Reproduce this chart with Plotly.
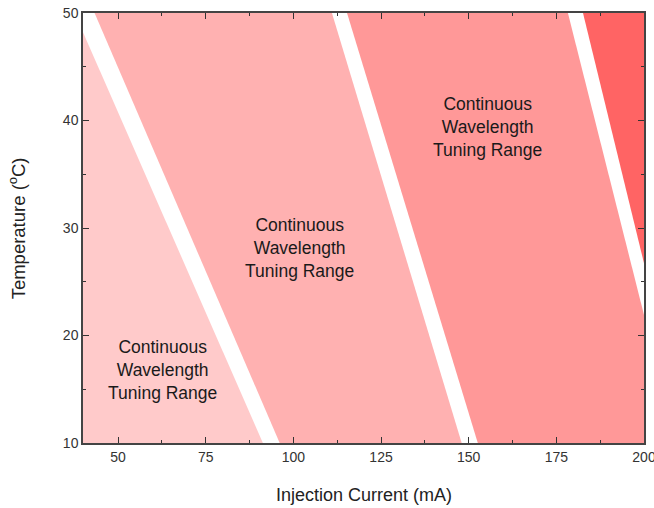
import plotly.graph_objects as go

# Axis ranges
x_range = [40, 200]
y_range = [10, 50]

# Boundary lines of white gaps: current (mA) at T=10 and at T=50 (extrapolated)
temps = [10, 50]
gap1_left = [91.3, 37.6]
gap1_right = [96.1, 43.3]
gap2_left = [148.0, 111.0]
gap2_right = [152.6, 115.3]
gap3_left = [209.2, 178.3]
gap3_right = [212.5, 182.6]

band_colors = ["#FFCACA", "#FFB1B1", "#FF9898", "#FF6464"]

label_text = "Continuous<br>Wavelength<br>Tuning Range"
label_x = [62.7, 101.8, 155.4]
label_y = [16.8, 28.1, 39.4]

FONT = "Liberation Sans, Arial"

fig = go.Figure()

def band(left, right, color):
    xs = [left[0], right[0], right[1], left[1], left[0]]
    ys = [temps[0], temps[0], temps[1], temps[1], temps[0]]
    fig.add_trace(go.Scatter(x=xs, y=ys, fill="toself", fillcolor=color,
                             mode="lines", line=dict(width=0, color=color),
                             hoverinfo="skip", showlegend=False))

xl = [x_range[0] - 20, x_range[0] - 20]
xr = [x_range[1] + 30, x_range[1] + 30]
band(xl, gap1_left, band_colors[0])
band(gap1_right, gap2_left, band_colors[1])
band(gap2_right, gap3_left, band_colors[2])
band(gap3_right, xr, band_colors[3])

for lx, ly in zip(label_x, label_y):
    fig.add_annotation(x=lx, y=ly, text=label_text, showarrow=False,
                       font=dict(size=17.5, color="#1a1a1a", family=FONT),
                       align="center")

# axis titles
fig.add_annotation(xref="paper", yref="paper", x=0.5, y=-0.122, yanchor="middle",
                   text="Injection Current (mA)", showarrow=False,
                   font=dict(size=18, color="#222", family=FONT))
fig.add_annotation(xref="paper", yref="paper", x=-0.117, y=0.5, xanchor="center",
                   text="Temperature (<sup>o</sup>C)", showarrow=False, textangle=-90,
                   font=dict(size=18.5, color="#222", family=FONT))

axis_common = dict(showline=True, linecolor="#444", linewidth=1.5, mirror="ticks",
                   ticks="inside", ticklen=6, tickwidth=1.3, tickcolor="#333",
                   showgrid=False, zeroline=False, automargin=False,
                   ticklabeloverflow="allow",
                   tickfont=dict(size=14, color="#333", family=FONT))

fig.update_xaxes(range=x_range, dtick=25, tick0=50,
                 minor=dict(ticks="inside", ticklen=3.5, dtick=12.5, tick0=50, tickcolor="#333", showgrid=False),
                 **axis_common)
fig.update_yaxes(range=y_range, dtick=10,
                 minor=dict(ticks="inside", ticklen=3.5, dtick=5, tickcolor="#333", showgrid=False),
                 **axis_common)

fig.update_layout(width=654, height=508, margin=dict(l=83, r=10, t=13, b=65),
                  plot_bgcolor="white", paper_bgcolor="white")

fig.write_html("out.html", config={"displayModeBar": False},
               post_script="document.body.style.margin='0';document.body.style.overflow='hidden';")
